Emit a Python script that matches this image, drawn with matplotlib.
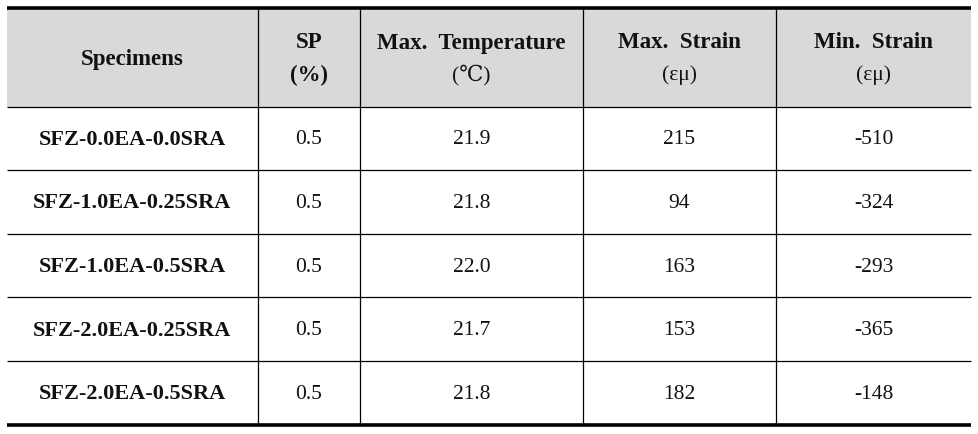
import matplotlib
matplotlib.use("Agg")
import matplotlib.pyplot as plt

specimens = ["SFZ-0.0EA-0.0SRA", "SFZ-1.0EA-0.25SRA", "SFZ-1.0EA-0.5SRA",
             "SFZ-2.0EA-0.25SRA", "SFZ-2.0EA-0.5SRA"]
sp = ["0.5", "0.5", "0.5", "0.5", "0.5"]
max_temp = ["21.9", "21.8", "22.0", "21.7", "21.8"]
max_strain = ["215", "94", "163", "153", "182"]
min_strain = ["-510", "-324", "-293", "-365", "-148"]
headers = [["Specimens"], ["SP", "(%)"], ["Max.  Temperature", "(℃)"],
           ["Max.  Strain", "(εμ)"], ["Min.  Strain", "(εμ)"]]

W, H = 979, 434
fig = plt.figure(figsize=(W / 100, H / 100), dpi=100)
ax = fig.add_axes([0, 0, 1, 1])
ax.set_xlim(0, W)
ax.set_ylim(H, 0)
ax.axis("off")

col_x = [7, 258, 360, 583, 776, 971]
top, head_bot, bottom = 7.5, 106.5, 424.5
nrows = len(specimens)
row_h = (bottom - head_bot) / nrows
row_y = [head_bot + i * row_h for i in range(nrows + 1)]

fam = ["Liberation Serif", "DejaVu Serif", "DejaVu Sans"]

# header background
ax.add_patch(plt.Rectangle((col_x[0], top), col_x[-1] - col_x[0], head_bot - top,
                           facecolor="#d9d9d9", edgecolor="none", zorder=0))

# lines
ax.plot([col_x[0], col_x[-1]], [top, top], color="black", lw=2.6, solid_capstyle="butt")
ax.plot([col_x[0], col_x[-1]], [bottom, bottom], color="black", lw=2.6, solid_capstyle="butt")
for y in row_y[:-1]:
    ax.plot([col_x[0], col_x[-1]], [y, y], color="black", lw=0.9, solid_capstyle="butt")
for x in col_x[1:-1]:
    ax.plot([x, x], [top, bottom], color="black", lw=0.9, solid_capstyle="butt")

# header text
for j, hdr in enumerate(headers):
    cx = (col_x[j] + col_x[j + 1]) / 2
    if len(hdr) == 1:
        ax.text(cx, 59, hdr[0], ha="center", va="center", fontsize=16.5,
                fontweight="bold", family=fam, color="#111111")
    else:
        ax.text(cx, 43, hdr[0], ha="center", va="center", fontsize=16.5,
                fontweight="bold", family=fam, color="#111111")
        ax.text(cx, 75, hdr[1], ha="center", va="center", fontsize=16.5 if j < 2 else 15.5,
                fontweight="normal" if j >= 2 else "bold", family=fam, color="#111111")

cols = [specimens, sp, max_temp, max_strain, min_strain]
for i in range(nrows):
    cy = (row_y[i] + row_y[i + 1]) / 2 + 1.5
    for j, col in enumerate(cols):
        cx = (col_x[j] + col_x[j + 1]) / 2
        ax.text(cx, cy, col[i], ha="center", va="center",
                fontsize=16 if j == 0 else 15.5, fontweight="bold" if j == 0 else "normal",
                family=fam, color="#111111")

fig.savefig("out.png", dpi=100, facecolor="white")
